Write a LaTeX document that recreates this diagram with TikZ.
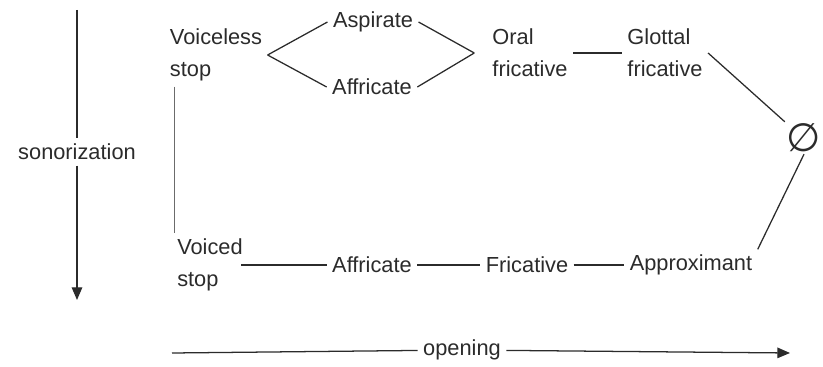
\documentclass[tikz,border=0pt]{standalone}
\usepackage{amsmath, amssymb}
\usepackage{fontspec}
\setmainfont{Liberation Sans}
\newfontfamily\symfont{DejaVu Sans}
\usepackage{tikz}
\usetikzlibrary{arrows.meta, positioning, calc}
\usepackage{xcolor}
\definecolor{ink}{HTML}{2B2B2B}

\begin{document}
\begin{tikzpicture}[x=0.025cm, y=-0.025cm, line width=0.9pt, draw=ink,
    every node/.style={text=ink, font=\fontsize{15.5}{22.5}\selectfont, inner sep=3.5pt, align=left},
    link/.style={draw=ink, line width=0.9pt},
    tip/.style={-{Triangle[length=9pt, width=7.5pt]}}]
        \useasboundingbox (0,0) rectangle (823,367);
        % upper row
        \node (vless) at (216,55) {Voiceless\\stop};
        \node (asp) at (373,22) {Aspirate};
        \node (affu) at (372,87) {Affricate};
        \node (oral) at (530,53) {Oral\\fricative};
        \node (glot) at (665,53) {Glottal\\fricative};
        \node[inner sep=1pt] (null) at (804,138) {\symfont\fontsize{28}{28}\selectfont ∅};
        % lower row
        \node (vcd) at (210,265) {Voiced\\stop};
        \node (affl) at (372,265) {Affricate};
        \node (fric) at (527,265) {Fricative};
        \node (appr) at (691,265) {Approximant};
        % axes
        \coordinate (sontop) at (77,10);
        \node (son) at (77,152) {sonorization};
        \coordinate (sonbot) at (77,300);
        \coordinate (openl) at (172,353);
        \node (open) at (462,350) {opening};
        \coordinate (openr) at (790,353);
        \draw[link] (vless.east) -- (asp.west);
        \draw[link] (vless.east) -- (affu.west);
        \draw[link] (asp.east) -- ([xshift=-9pt]oral.west);
        \draw[link] (affu.east) -- ([xshift=-9pt]oral.west);
        \draw[link] (oral.east) -- (glot.west);
        \draw[link] (glot.east) -- (null.north west);
        \draw[link] (null.south) -- (appr.north east);
        \draw[link, draw=ink!70, line width=0.6pt] ([xshift=7pt]vless.south west) -- ([xshift=7pt]vless.south west |- vcd.north);
        \draw[link] ([xshift=-5pt]vcd.east) -- (affl.west);
        \draw[link] (affl.east) -- (fric.west);
        \draw[link] (fric.east) -- (appr.west);
        \draw[link] (sontop) -- (son);
        \draw[link, tip] (son) -- (sonbot);
        \draw[link] (openl) -- (open);
        \draw[link, tip] (open) -- (openr);
    \end{tikzpicture}
\end{document}
